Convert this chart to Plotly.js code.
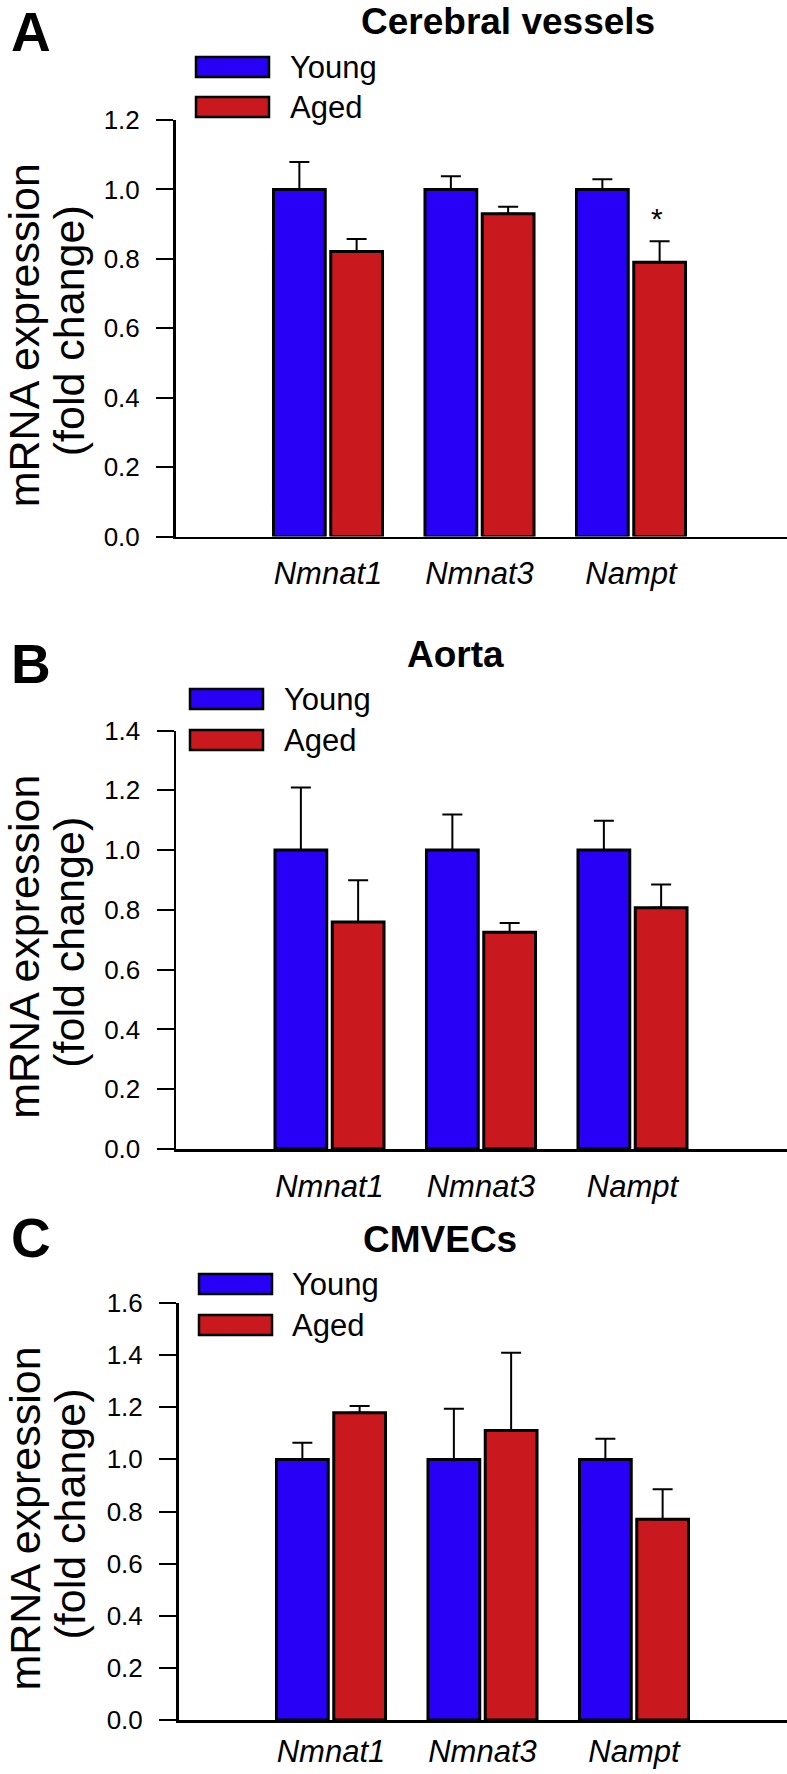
<!DOCTYPE html>
<html>
<head>
<meta charset="utf-8">
<script src="https://cdn.plot.ly/plotly-3.0.1.min.js"></script>
<style>
  html, body { margin: 0; padding: 0; background: #ffffff; }
  #chart { width: 787px; height: 1774px; }
</style>
</head>
<body>
<div id="chart"></div>
<script>
// ---------------- DATA ----------------
const categories = ['Nmnat1', 'Nmnat3', 'Nampt'];
const seriesNames = ['Young', 'Aged'];
const panelLetters = ['A', 'B', 'C'];
const panelTitles = ['Cerebral vessels', 'Aorta', 'CMVECs'];
const yTitleLines = ['mRNA expression', '(fold change)'];

// Panel A - Cerebral vessels
const youngA = [1.00, 1.00, 1.00];
const youngErrA = [0.079, 0.038, 0.029];
const agedA = [0.821, 0.930, 0.790];
const agedErrA = [0.036, 0.020, 0.061];
const signifA = ['', '', '*'];

// Panel B - Aorta
const youngB = [1.00, 1.00, 1.00];
const youngErrB = [0.209, 0.119, 0.098];
const agedB = [0.759, 0.725, 0.807];
const agedErrB = [0.140, 0.031, 0.078];
const signifB = ['', '', ''];

// Panel C - CMVECs
const youngC = [1.00, 1.00, 1.00];
const youngErrC = [0.064, 0.194, 0.079];
const agedC = [1.179, 1.111, 0.770];
const agedErrC = [0.026, 0.298, 0.115];
const signifC = ['', '', ''];

const yMaxes = [1.2, 1.4, 1.6];
const yTickStep = 0.2;

// ---------------- STYLE / GEOMETRY ----------------
const W = 787, H = 1774;
const FONT = 'Liberation Sans, Arial, Helvetica, sans-serif';
const BLUE = '#2800F5';
const RED = '#C9191E';
const unitPx = 151.5;          // px per category
const BARGAP = 0.244, BARGROUPGAP = 0.096;

const geom = [
  {top: 120, bottom: 536.5, left: 175.5, c0: 328, titleX: 508, titleY: null, letterY: 32,
   legX: 196, legY: [67, 107], legTextX: 288, xStandoff: 8},
  {top: 730.5, bottom: 1149, left: 176, c0: 329.5, titleX: 455, titleY: 654, letterY: 664,
   legX: 190, legY: [699, 740], legTextX: 282, xStandoff: 8},
  {top: 1303, bottom: 1720, left: 178.5, c0: 331, titleX: 440, titleY: 1239, letterY: 1238,
   legX: 199, legY: [1284, 1325], legTextX: 290, xStandoff: 2}
];

const panels = [
  {young: youngA, youngErr: youngErrA, aged: agedA, agedErr: agedErrA, signif: signifA},
  {young: youngB, youngErr: youngErrB, aged: agedB, agedErr: agedErrB, signif: signifB},
  {young: youngC, youngErr: youngErrC, aged: agedC, agedErr: agedErrC, signif: signifC}
];

const px2x = p => p / W;
const px2y = p => 1 - p / H;

const traces = [];
const layout = {
  width: W, height: H,
  margin: {l: 0, r: 0, t: 0, b: 0},
  paper_bgcolor: '#ffffff',
  plot_bgcolor: 'rgba(0,0,0,0)',
  showlegend: false,
  barmode: 'group',
  bargap: BARGAP,
  bargroupgap: BARGROUPGAP,
  font: {family: FONT, color: '#000000'},
  annotations: [],
  shapes: []
};

panels.forEach((p, i) => {
  const g = geom[i];
  const n = i === 0 ? '' : String(i + 1);
  const xa = 'x' + n, ya = 'y' + n;
  const zeros = p.young.map(() => 0);
  const axisMid = (g.top + g.bottom) / 2;

  traces.push({
    type: 'bar', name: seriesNames[0], x: categories, y: p.young,
    xaxis: xa, yaxis: ya,
    marker: {color: BLUE, line: {color: '#000000', width: 3}},
    error_y: {type: 'data', symmetric: false, array: p.youngErr, arrayminus: zeros,
              color: '#000000', thickness: 2, width: 10},
    hoverinfo: 'skip'
  });
  traces.push({
    type: 'bar', name: seriesNames[1], x: categories, y: p.aged,
    xaxis: xa, yaxis: ya,
    marker: {color: RED, line: {color: '#000000', width: 3}},
    error_y: {type: 'data', symmetric: false, array: p.agedErr, arrayminus: zeros,
              color: '#000000', thickness: 2, width: 10},
    hoverinfo: 'skip'
  });

  layout['xaxis' + n] = {
    domain: [px2x(g.left), 1],
    range: [-(g.c0 - g.left) / unitPx, (W - g.c0) / unitPx],
    anchor: ya,
    type: 'category',
    showline: true, linecolor: '#000000', linewidth: 2.5,
    ticks: '', showgrid: false, zeroline: false,
    tickfont: {family: FONT, size: 31, style: 'italic', color: '#000000'},
    ticklabelstandoff: g.xStandoff,
    fixedrange: true
  };
  layout['yaxis' + n] = {
    domain: [px2y(g.bottom), px2y(g.top)],
    range: [0, yMaxes[i]],
    anchor: xa,
    tick0: 0, dtick: yTickStep, tickformat: '.1f',
    ticks: 'outside', ticklen: 17, tickwidth: 2, tickcolor: '#000000',
    showline: true, linecolor: '#000000', linewidth: 2.5,
    showgrid: false, zeroline: false,
    tickfont: {family: FONT, size: 26, color: '#000000'},
    ticklabelstandoff: 11,
    fixedrange: true
  };

  // panel letter
  layout.annotations.push({
    xref: 'paper', yref: 'paper', x: px2x(9), y: px2y(g.letterY),
    xanchor: 'left', yanchor: 'middle', showarrow: false,
    text: '<b>' + panelLetters[i] + '</b>',
    font: {family: FONT, size: 55, color: '#000000'}
  });
  // panel title
  const titleAnn = {
    xref: 'paper', yref: 'paper', x: px2x(g.titleX),
    xanchor: 'center', showarrow: false, borderpad: 0,
    text: '<b>' + panelTitles[i] + '</b>',
    font: {family: FONT, size: 37, color: '#000000'}
  };
  if (g.titleY === null) { titleAnn.y = 1; titleAnn.yanchor = 'top'; }
  else { titleAnn.y = px2y(g.titleY); titleAnn.yanchor = 'middle'; }
  layout.annotations.push(titleAnn);
  // y axis title (two lines)
  [[24, 7], [69, 3]].forEach(([xp, dy], k) => {
    layout.annotations.push({
      xref: 'paper', yref: 'paper', x: px2x(xp), y: px2y(axisMid + dy),
      xanchor: 'center', yanchor: 'middle', showarrow: false, textangle: -90,
      text: yTitleLines[k],
      font: {family: FONT, size: 43, color: '#000000'}
    });
  });
  // legend boxes + labels
  [BLUE, RED].forEach((col, k) => {
    const cy = g.legY[k];
    layout.shapes.push({
      type: 'rect', xref: 'paper', yref: 'paper',
      x0: px2x(g.legX), x1: px2x(g.legX + 73),
      y0: px2y(cy + 10), y1: px2y(cy - 10),
      fillcolor: col, line: {color: '#000000', width: 2.5}
    });
    layout.annotations.push({
      xref: 'paper', yref: 'paper', x: px2x(g.legTextX), y: px2y(cy),
      xanchor: 'left', yanchor: 'middle', showarrow: false,
      text: seriesNames[k],
      font: {family: FONT, size: 31, color: '#000000'}
    });
  });
  // significance markers above aged bars
  const agedOffset = (1 - BARGAP) / 4;
  p.signif.forEach((s, j) => {
    if (!s) return;
    layout.annotations.push({
      xref: xa, yref: ya, x: j + agedOffset - 0.02, y: p.aged[j] + p.agedErr[j],
      xanchor: 'center', yanchor: 'bottom', yshift: 4, showarrow: false,
      text: s, font: {family: FONT, size: 30, color: '#000000'}
    });
  });
});

Plotly.newPlot('chart', traces, layout, {displayModeBar: false, staticPlot: true});
</script>
</body>
</html>
